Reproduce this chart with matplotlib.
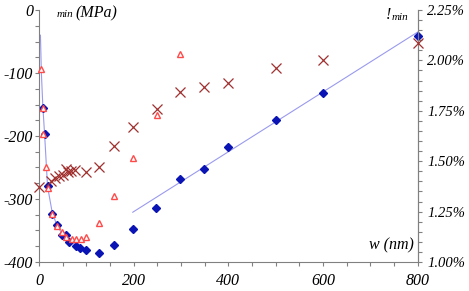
import numpy as np
import matplotlib
matplotlib.use('Agg')
import matplotlib.pyplot as plt
from matplotlib import font_manager
from matplotlib.ticker import MultipleLocator

# measured sigma_min (blue diamonds)
w_meas = [8, 12, 18, 28, 38, 48, 58, 63, 78, 87, 100, 127, 159, 198, 247, 298, 348, 399, 500, 600, 800]
s_meas = [-155, -197, -280, -324, -342, -357, -357, -368, -375, -378, -381, -385, -373, -347, -315, -269,
          -253, -218, -175, -132, -41]

# model sigma_min (open triangles)
w_model = [5, 8, 9, 14, 18, 28, 38, 48, 58, 69, 78, 88, 99, 127, 159, 198, 249, 298]
s_model = [-94, -156, -197, -250, -283, -324, -343, -353, -361, -364, -364, -364, -360, -338, -295, -235,
           -167, -70]

# epsilon_min (crosses, right axis, %)
w_eps = [0, 25, 33, 42, 50, 57, 62, 68, 75, 99, 127, 159, 198, 249, 298, 349, 399, 500, 600, 800]
eps = [1.37, 1.40, 1.415, 1.425, 1.43, 1.46, 1.445, 1.45, 1.455, 1.445, 1.47, 1.575, 1.67, 1.757,
       1.842, 1.867, 1.886, 1.961, 2.002, 2.085]

# fitted curves
w_fit1 = [3, 5, 8, 12, 18, 28, 38, 48, 58, 65]
s_fit1 = [-40, -100, -152, -200, -280, -322, -342, -354, -360, -363]
w_fit2 = [198, 800]
s_fit2 = [-321, -35]

x_ticks = [0, 200, 400, 600, 800]
x_labels = ['0', '200', '400', '600', '800']
y_ticks = [-400, -300, -200, -100, 0]
y_labels = ['-400', '-300', '-200', '-100', '0']
eps_ticks = [1.0, 1.25, 1.5, 1.75, 2.0, 2.25]
eps_labels = ['1.00%', '1.25%', '1.50%', '1.75%', '2.00%', '2.25%']

fs = 11.5
ital = font_manager.FontProperties(family=['Liberation Serif', 'DejaVu Serif'], style='italic', size=fs)
ital_right = ital.copy()
ital_right.set_size(10.5)
ital_small = ital.copy()
ital_small.set_size(8)

grey = '#808080'
fig = plt.figure(figsize=(4.69, 2.91), dpi=100)
ax = fig.add_axes([0.0832, 0.0997, 0.8074, 0.8659])

ax.plot(w_fit1, s_fit1, color='#9a9aee', lw=0.8, zorder=1)
ax.plot(w_fit2, s_fit2, color='#9a9aee', lw=0.8, zorder=1)
ax.plot(w_meas, s_meas, 'D', color='#0a14b4', ms=4.5, mec='#0a14b4', clip_on=False, zorder=2)
ax.plot(w_model, s_model, '^', mfc='white', mec='#ff4a4a', ms=4.5, mew=1.0, clip_on=False, zorder=3)

ax.set_xlim(0, 800)
ax.set_ylim(-400, 0)
ax.xaxis.set_minor_locator(MultipleLocator(50))
ax.yaxis.set_minor_locator(MultipleLocator(25))
ax.set_xticks(x_ticks, x_labels)
ax.set_yticks(y_ticks, y_labels)

ax.spines['top'].set_visible(False)
for side in ['left', 'bottom', 'right']:
    ax.spines[side].set_color(grey)
    ax.spines[side].set_linewidth(0.8)

ax.tick_params(axis='both', which='both', direction='out', color=grey, width=0.8, length=2.8)
ax.tick_params(axis='x', pad=5)
ax.tick_params(axis='y', pad=1.5)

ax2 = ax.twinx()
ax2.plot(w_eps, eps, 'x', color='#a0302e', ms=7, mew=0.9, clip_on=False, zorder=4)
ax2.set_ylim(1.0, 2.25)
ax2.set_yticks(eps_ticks, eps_labels)
ax2.yaxis.set_minor_locator(MultipleLocator(0.05))
for side in ['top', 'left', 'bottom']:
    ax2.spines[side].set_visible(False)
ax2.spines['right'].set_color(grey)
ax2.spines['right'].set_linewidth(0.8)
ax2.tick_params(axis='y', which='both', direction='out', color=grey, width=0.8, length=2.8, pad=4)

for lbl in ax.get_xticklabels() + ax.get_yticklabels():
    lbl.set_fontproperties(ital)
for lbl in ax2.get_yticklabels():
    lbl.set_fontproperties(ital_right)

# axis titles
fig.text(57 / 469, 1 - 17 / 291, 'min', fontproperties=ital_small, va='baseline', ha='left')
fig.text(75 / 469, 1 - 17 / 291, '(MPa)', fontproperties=ital, va='baseline', ha='left')
fig.text(386 / 469, 1 - 19 / 291, '!', fontproperties=ital, va='baseline', ha='left')
fig.text(392 / 469, 1 - 20 / 291, 'min', fontproperties=ital_small, va='baseline', ha='left')
fig.text(414 / 469, 1 - 249 / 291, 'w (nm)', fontproperties=ital, va='baseline', ha='right')

fig.savefig('out.png', dpi=100)
